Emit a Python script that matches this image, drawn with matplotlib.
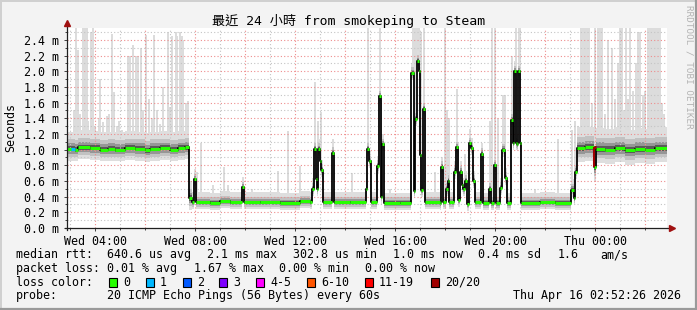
import numpy as np
import matplotlib
matplotlib.use("Agg")
import matplotlib.pyplot as plt
from matplotlib.patches import Rectangle
from matplotlib.lines import Line2D

plt.rcParams['font.family'] = ['DejaVu Sans Mono', 'Noto Sans CJK TC']

# median rtt: hours since Wed 00:00 -> ms, held until the next point
median_t = [2.88, 3.20, 3.32, 3.80, 4.20, 4.52, 4.80, 5.20, 5.60, 6.00, 6.20, 6.60, 7.00, 7.32, 7.60,
            7.76, 7.88, 7.96, 8.04, 8.60, 9.00, 9.40, 9.88, 9.96, 10.60, 11.40, 12.20, 12.60,
            12.68, 12.76, 12.84, 12.88, 12.92, 13.00, 13.04, 13.12, 13.48, 13.56, 14.20,
            14.84, 14.88, 14.96, 15.04, 15.28, 15.36, 15.44, 15.48, 15.56, 16.20,
            16.64, 16.76, 16.80, 16.88, 16.96, 17.00, 17.04, 17.12, 17.20, 17.80, 17.84, 17.92,
            18.04, 18.12, 18.16, 18.36, 18.44, 18.52, 18.60, 18.68, 18.72, 18.80, 18.88, 18.96,
            19.04, 19.12, 19.20, 19.44, 19.52, 19.76, 19.84, 19.96, 20.04, 20.20, 20.28, 20.40,
            20.48, 20.64, 20.72, 20.76, 20.84, 20.88, 20.92, 21.00, 21.04, 21.80, 22.40,
            23.04, 23.16, 23.20, 23.28, 23.60, 23.96, 24.04, 24.40, 24.80, 25.20, 25.60, 26.00, 26.40]
median_ms = [1.01, 1.00, 1.03, 1.02, 1.00, 1.01, 1.00, 1.02, 1.01, 0.99, 1.01, 1.02, 1.00, 1.02, 1.03,
             0.38, 0.33, 0.62, 0.33, 0.32, 0.34, 0.33, 0.52, 0.33, 0.33, 0.32, 0.34, 0.33,
             0.50, 1.01, 0.63, 0.50, 1.01, 0.86, 0.74, 0.33, 0.96, 0.33, 0.33,
             0.50, 1.01, 0.85, 0.33, 0.79, 1.68, 0.40, 1.07, 0.32, 0.32,
             1.98, 0.47, 1.39, 2.13, 2.00, 0.93, 0.48, 1.52, 0.33, 0.32, 0.78, 0.33,
             0.50, 0.60, 0.33, 0.72, 1.03, 0.36, 0.72, 0.55, 0.50, 0.60, 0.31, 1.08,
             1.02, 0.60, 0.33, 0.95, 0.32, 0.50, 0.32, 0.80, 0.32, 0.51, 1.00, 0.64,
             0.32, 1.38, 1.08, 2.00, 1.08, 1.07, 2.00, 1.08, 0.32, 0.33, 0.32,
             0.49, 0.38, 0.72, 1.02, 1.03, 0.78, 1.01, 1.00, 1.02, 0.99, 1.01, 1.00, 1.02]
t_start, t_end = 2.874, 26.874

# spread of the 20 pings around the median, per period (start hour, ms)
jitter_t = [2.0, 7.78, 23.24]
jitter_ms = [0.10, 0.06, 0.12]

# slowest ping of a round (hour, ms)
spike_t = [3.16, 3.24, 3.32, 3.40, 3.52, 3.60, 3.68, 3.72, 3.84, 3.92,
           4.00, 4.16, 4.20, 4.32, 4.48, 4.56, 4.68, 4.76, 4.88, 4.96,
           5.08, 5.32, 5.40, 5.52, 5.64, 5.72, 5.84, 5.92,
           6.04, 6.16, 6.28, 6.36, 6.48, 6.60, 6.72, 6.92,
           7.00, 7.08, 7.24, 7.28, 7.40, 7.48, 7.52, 7.64, 7.72,
           8.08, 8.24, 8.72, 9.16, 9.32, 9.92, 10.28, 11.32, 11.72, 12.20,
           12.80, 12.92, 13.04, 13.52, 14.28, 14.92, 15.40, 15.80, 16.72, 16.80,
           16.88, 16.96, 17.04, 17.16, 17.60, 17.88, 18.00, 18.08, 18.16, 18.48,
           18.52, 18.80, 19.00, 19.08, 19.48, 19.80, 19.88, 20.00, 20.12, 20.32,
           20.40, 20.68, 20.84, 20.96, 21.00, 21.60, 22.52, 23.08, 23.20, 23.32,
           23.44, 23.52, 23.60, 23.68, 23.76, 23.88, 24.00, 24.12, 24.20, 24.28,
           24.40, 24.52, 24.68, 24.80, 24.92, 25.00, 25.08, 25.16, 25.24, 25.32,
           25.40, 25.52, 25.64, 25.72, 25.80, 25.92, 26.00, 26.12, 26.20, 26.28,
           26.36, 26.44, 26.52, 26.60, 26.68, 26.76]
spike_ms = [1.50, 2.55, 2.27, 1.45, 2.55, 2.55, 2.55, 1.37, 2.50, 2.55,
            1.30, 1.40, 1.90, 1.35, 1.43, 1.45, 2.48, 1.73, 1.30, 1.37,
            1.25, 2.20, 2.20, 2.33, 2.20, 2.20, 2.30, 1.50,
            2.46, 1.65, 1.40, 2.46, 1.50, 1.33, 1.80, 2.50,
            1.55, 2.45, 2.50, 2.45, 2.50, 2.45, 2.40, 1.60, 1.62,
            0.72, 1.08, 0.55, 0.78, 0.55, 0.60, 0.50, 0.73, 1.24, 0.79,
            1.87, 1.37, 1.48, 1.13, 0.70, 2.55, 2.55, 0.50, 2.55, 2.55,
            2.55, 2.55, 2.50, 2.55, 0.72, 0.90, 2.55, 1.50, 1.40, 1.78,
            1.10, 0.95, 1.27, 1.15, 1.00, 1.37, 2.55, 2.55, 1.40, 1.70,
            1.70, 2.20, 2.55, 2.55, 2.55, 0.50, 1.13, 1.25, 1.37, 1.30,
            2.55, 2.55, 2.55, 2.55, 2.55, 1.60, 2.55, 2.55, 2.55, 2.55,
            1.45, 2.40, 2.30, 1.65, 2.10, 2.55, 2.55, 1.50, 2.55, 1.65,
            2.55, 1.75, 2.10, 2.50, 2.50, 1.70, 1.75, 2.55, 2.55, 2.55,
            2.55, 2.55, 2.55, 2.55, 1.60, 1.45]

# rounds with lost pings (from hour, to hour, lost)
loss_t0 = [3.04, 23.94]
loss_t1 = [3.20, 24.02]
loss_n = [1, 20]

loss_labels = ['0', '1', '2', '3', '4-5', '6-10', '11-19', '20/20']
loss_colors = ['#26ff00', '#00b8ff', '#0059ff', '#7e00ff', '#ff00ff', '#ff5500', '#ff0000', '#a10000']
loss_lo = [0, 1, 2, 3, 4, 6, 11, 20]

stats_rtt = ['640.6 us avg', '2.1 ms max', '302.8 us min', '1.0 ms now', '0.4 ms sd', '1.6', 'am/s']
stats_loss = ['0.01 % avg', '1.67 % max', '0.00 % min', '0.00 % now']

W, H = 697, 310
fig = plt.figure(figsize=(W / 100, H / 100), dpi=100, facecolor='#f3f3f3')


def fx(x):
    return x / W


def fy(y):
    return 1 - y / H


ax = fig.add_axes([fx(67), fy(228), 600 / W, 200 / H], facecolor='white')
ax.set_xlim(t_start, t_end)
ax.set_ylim(0, 2.553)

mt = np.array(median_t + [t_end])
mv = np.array(median_ms + [median_ms[-1]])
jit = np.array(jitter_ms)[np.searchsorted(jitter_t, mt, side='right') - 1]

# tall single pings
st = np.array(spike_t)
base = np.array(median_ms)[np.searchsorted(median_t, st, side='right') - 1]
ax.bar(st, np.array(spike_ms) - base, bottom=base, width=0.06, color='#dcdcdc',
       linewidth=0, zorder=1)

# smoke around the median
for lo, hi, c, z in [(1.5, 2.2, '#dedede', 2), (1.0, 1.2, '#c2c2c2', 3),
                     (0.6, 0.7, '#969696', 4), (0.3, 0.35, '#5a5a5a', 5)]:
    ax.fill_between(mt, mv - lo * jit, mv + hi * jit, step='post', color=c,
                    linewidth=0, zorder=z)

# grid
dots = (0, (1, 2))
for h in range(3, 27):
    ax.axvline(h, color='#ee8c8c' if h % 2 == 0 else '#c4c4c4', lw=0.8,
               linestyle=dots, zorder=6)
for k in range(1, 26):
    ax.axhline(k / 10, color='#ee8c8c' if k % 2 == 0 else '#c4c4c4', lw=0.8,
               linestyle=dots, zorder=6)

# median line and loss colour
ax.step(mt, mv, where='post', color='black', lw=1.3, zorder=7)
ax.hlines(median_ms, median_t, list(median_t[1:]) + [t_end], color=loss_colors[0],
          lw=2.2, zorder=8)
for a, b, n in zip(loss_t0, loss_t1, loss_n):
    c = loss_colors[np.searchsorted(loss_lo, n, side='right') - 1]
    i0 = np.searchsorted(median_t, a, side='right') - 1
    lvl = median_ms[i0]
    ax.hlines(lvl, a, b, color=c, lw=2.2, zorder=9)
    seg = [median_ms[i] for i in range(len(median_t)) if a <= median_t[i] < b]
    if seg:
        ax.vlines(a + 0.03, min(seg + [lvl]), max(seg + [lvl]), color=c, lw=1.5, zorder=9)

for s in ax.spines.values():
    s.set_visible(False)

ax.set_xticks([4, 8, 12, 16, 20, 24])
ax.set_xticklabels(['Wed 04:00', 'Wed 08:00', 'Wed 12:00', 'Wed 16:00', 'Wed 20:00', 'Thu 00:00'])
ax.set_xticks(range(3, 27), minor=True)
ax.set_yticks([k / 5 for k in range(13)])
ax.set_yticklabels(['%.1f m' % (k / 5) for k in range(13)])
ax.set_yticks([k / 10 for k in range(26)], minor=True)
ax.tick_params(which='both', direction='out', color='#404040', width=0.7,
               labelsize=8.4, labelcolor='black')
ax.tick_params(which='major', length=2.5)
ax.tick_params(which='minor', length=1.6)
ax.tick_params(axis='x', pad=2.5)
ax.tick_params(axis='y', pad=3.5)

# axis lines with arrows
ax.add_line(Line2D([0, 0], [-0.01, 1.02], transform=ax.transAxes, color='#202020',
                   lw=0.9, clip_on=False, zorder=10))
ax.add_line(Line2D([-0.004, 1.004], [0, 0], transform=ax.transAxes, color='#202020',
                   lw=0.9, clip_on=False, zorder=10))
ax.plot([0], [1.025], marker='^', ms=4.2, color='#a01010', transform=ax.transAxes,
        clip_on=False, zorder=11)
ax.plot([1.008], [0], marker='>', ms=4.2, color='#a01010', transform=ax.transAxes,
        clip_on=False, zorder=11)

# frame
fig.add_artist(Line2D([0, 1], [fy(0.5), fy(0.5)], color='#d0d0d0', lw=1.4))
fig.add_artist(Line2D([fx(0.5), fx(0.5)], [0, 1], color='#d0d0d0', lw=1.4))
fig.add_artist(Line2D([0, 1], [fy(H - 1), fy(H - 1)], color='#9a9a9a', lw=1.6))
fig.add_artist(Line2D([fx(W - 1), fx(W - 1)], [0, 1], color='#9a9a9a', lw=1.6))

fig.text(fx(348), fy(21.5), '最近 24 小時 from smokeping to Steam', ha='center',
         va='center', fontsize=9.45)
fig.text(fx(11), fy(127), 'Seconds', rotation=90, ha='center', va='center', fontsize=8.4)
fig.text(fx(688.5), fy(5), 'RRDTOOL / TOBI OETIKER', rotation=270, ha='center', va='top',
         fontsize=6.7, color='#b4b4b4')

fs = 8.4
rows = [254.5, 268.3, 282.3, 296]
fig.text(fx(16), fy(rows[0]), 'median rtt:', va='center', fontsize=fs)
for x, s in zip([107, 207, 293, 393, 478, 558, 600], stats_rtt):
    fig.text(fx(x), fy(rows[0]), s, va='center', fontsize=fs)
fig.text(fx(16), fy(rows[1]), 'packet loss:', va='center', fontsize=fs)
for x, s in zip([107, 194, 279, 365], stats_loss):
    fig.text(fx(x), fy(rows[1]), s, va='center', fontsize=fs)
fig.text(fx(16), fy(rows[2]), 'loss color:', va='center', fontsize=fs)
for x, s, c in zip([109, 146, 183, 219, 256, 307, 365, 431], loss_labels, loss_colors):
    fig.add_artist(Rectangle((fx(x), fy(286.5)), 7.5 / W, 8.5 / H, facecolor=c,
                             edgecolor='black', lw=0.8))
    fig.text(fx(x + 14), fy(rows[2]), s, va='center', fontsize=fs)
fig.text(fx(16), fy(rows[3]), 'probe:', va='center', fontsize=fs)
fig.text(fx(107), fy(rows[3]), '20 ICMP Echo Pings (56 Bytes) every 60s', va='center', fontsize=fs)
fig.text(fx(513), fy(rows[3]), 'Thu Apr 16 02:52:26 2026', va='center', fontsize=fs)

fig.savefig('out.png', dpi=100, facecolor=fig.get_facecolor())
